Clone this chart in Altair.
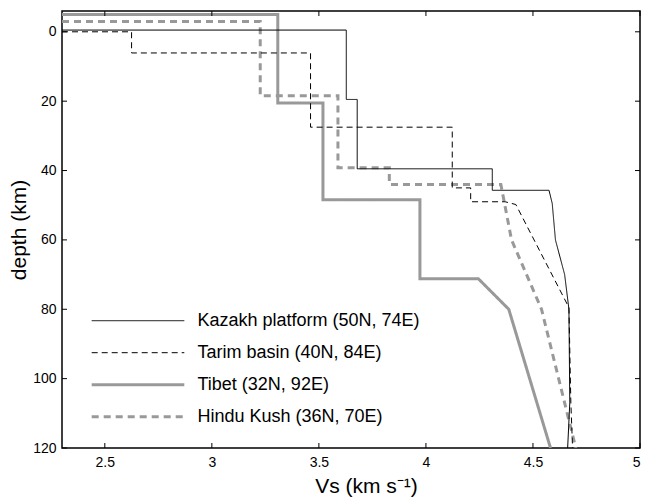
import altair as alt
import pandas as pd

# ---- data ----
names = ["Kazakh platform (50N, 74E)", "Tarim basin (40N, 84E)",
         "Tibet (32N, 92E)", "Hindu Kush (36N, 70E)"]

kaz_vs = [2.3, 3.628, 3.628, 3.679, 3.679, 4.31, 4.31, 4.575, 4.59, 4.605, 4.648, 4.668, 4.672, 4.662]
kaz_d = [-0.5, -0.5, 19.5, 19.5, 39.5, 39.5, 45.7, 45.7, 49.5, 60, 70, 80, 107, 120]

tar_vs = [2.3, 2.625, 2.625, 3.461, 3.461, 4.123, 4.123, 4.209, 4.209, 4.37, 4.42, 4.668, 4.677, 4.685]
tar_d = [0, 0, 6.1, 6.1, 27.5, 27.5, 45, 45, 49, 49, 49.8, 79.5, 107, 120]

tib_vs = [2.3, 3.308, 3.308, 3.519, 3.519, 3.972, 3.972, 4.245, 4.387, 4.582]
tib_d = [-5, -5, 20.5, 20.5, 48.4, 48.4, 71.2, 71.2, 80, 120]

hk_vs = [2.3, 3.226, 3.226, 3.589, 3.589, 3.829, 3.829, 4.35, 4.40, 4.54, 4.70]
hk_d = [-3, -3, 18.4, 18.4, 39.2, 39.2, 44, 44, 60, 80, 120]

x_ticks = [2.5, 3, 3.5, 4, 4.5, 5]
y_ticks = [0, 20, 40, 60, 80, 100, 120]

colors = ["black", "black", "#999999", "#999999"]
dashes = [[1, 0], [6, 4], [1, 0], [7, 5]]
widths = [1, 1, 3, 3]

series_data = [(kaz_vs, kaz_d), (tar_vs, tar_d), (tib_vs, tib_d), (hk_vs, hk_d)]

W, H = 578, 437

xscale = alt.Scale(domain=[2.3, 5], nice=False, zero=False)
yscale = alt.Scale(domain=[-6, 120], reverse=True, nice=False, zero=False)
# legend rows placed through a point scale
leg_scale = alt.Scale(type="point", domain=names, range=[309.7, 405.7], padding=0)

x_axis = alt.Axis(values=x_ticks, format="~g", title="Vs (km s⁻¹)", titleX=304)
y_axis = alt.Axis(values=y_ticks, format="d", title="depth (km)")

layers = []
# draw gray lines first, black on top
for i in [2, 3, 0, 1]:
    vs, d = series_data[i]
    sdf = pd.DataFrame({"vs": vs, "depth": d, "idx": list(range(len(vs)))})
    layers.append(
        alt.Chart(sdf).mark_line(
            clip=True, color=colors[i], strokeDash=dashes[i], strokeWidth=widths[i]
        ).encode(
            x=alt.X("vs:Q", scale=xscale, axis=x_axis),
            y=alt.Y("depth:Q", scale=yscale, axis=y_axis if i == 2 else None),
            order=alt.Order("idx:Q"),
        )
    )

# legend samples and labels
for i, name in enumerate(names):
    ldf = pd.DataFrame({"series": [name]})
    layers.append(
        alt.Chart(ldf).mark_rule(
            color=colors[i], strokeDash=dashes[i], strokeWidth=widths[i]
        ).encode(
            y=alt.Y("series:N", scale=leg_scale, axis=None),
            x=alt.value(29.7), x2=alt.value(122.3),
        )
    )
layers.append(
    alt.Chart(pd.DataFrame({"series": names})).mark_text(
        align="left", baseline="middle", fontSize=18, font="Liberation Sans", color="black"
    ).encode(
        y=alt.Y("series:N", scale=leg_scale, axis=None),
        x=alt.value(135.5),
        text="series:N",
    )
)

# inward ticks on all four sides
xt = pd.DataFrame({"vs": x_ticks})
yt = pd.DataFrame({"depth": y_ticks})
tick_style = dict(color="black", strokeWidth=1)
layers += [
    alt.Chart(xt).mark_rule(**tick_style).encode(
        x=alt.X("vs:Q", scale=xscale), y=alt.value(0), y2=alt.value(5)),
    alt.Chart(xt).mark_rule(**tick_style).encode(
        x=alt.X("vs:Q", scale=xscale), y=alt.value(H - 5), y2=alt.value(H)),
    alt.Chart(yt).mark_rule(**tick_style).encode(
        y=alt.Y("depth:Q", scale=yscale, axis=None), x=alt.value(0), x2=alt.value(5)),
    alt.Chart(yt).mark_rule(**tick_style).encode(
        y=alt.Y("depth:Q", scale=yscale, axis=None), x=alt.value(W - 5), x2=alt.value(W)),
]

chart = alt.layer(*layers).resolve_scale(y="independent").properties(
    width=W, height=H,
    autosize=alt.AutoSizeParams(type="none"),
    padding={"left": 62, "top": 11, "right": 10, "bottom": 49},
    background="white",
).configure_view(
    stroke="black", strokeWidth=1.5
).configure_axis(
    domain=False, ticks=False, grid=False,
    labelFont="Liberation Sans", labelFontSize=14, labelColor="black",
    labelPadding=6,
    titleFont="Liberation Sans", titleFontSize=21, titleFontWeight="normal",
    titleColor="black",
).configure_axisY(
    titlePadding=3,
).configure_axisX(
    titlePadding=6, labelPadding=7,
)

chart.save("out.html", embed_options={"renderer": "svg", "actions": False})
